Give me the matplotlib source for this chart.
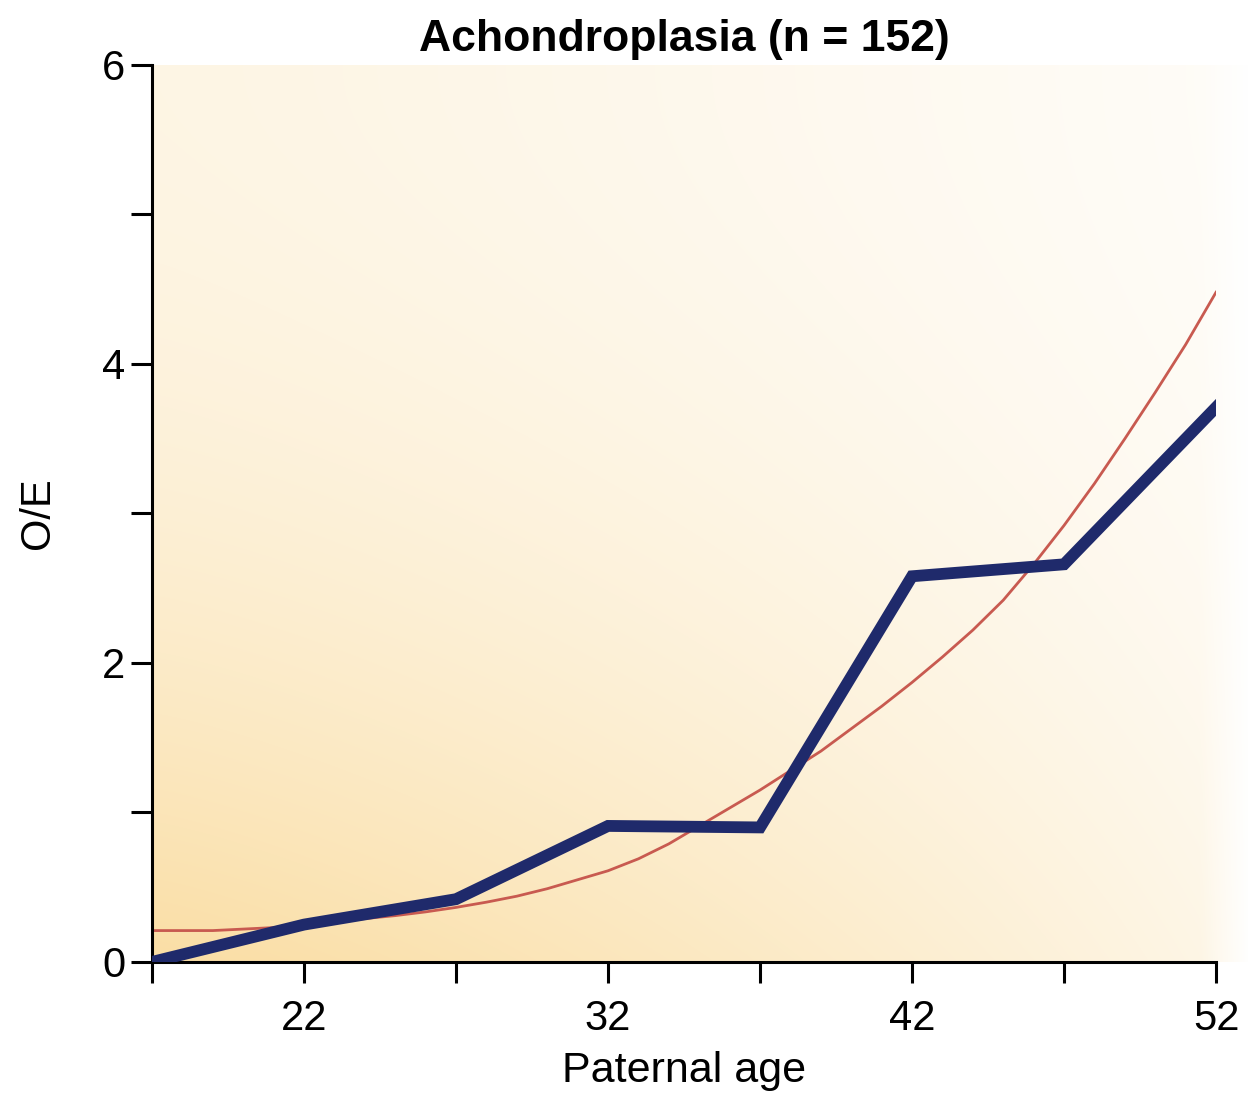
import numpy as np
import matplotlib.pyplot as plt

# Observed / expected ratio by paternal age
age = [17, 22, 27, 32, 37, 42, 44.5, 47, 52]
oe = [0.0, 0.25, 0.42, 0.91, 0.90, 2.58, 2.62, 2.66, 3.71]

# fitted curve
fit_age = list(range(17, 53))
fit_oe = [0.21, 0.21, 0.21, 0.22, 0.23, 0.25, 0.27, 0.29, 0.31, 0.335,
          0.365, 0.40, 0.44, 0.49, 0.55, 0.61, 0.69, 0.79, 0.91, 1.03,
          1.15, 1.28, 1.41, 1.56, 1.71, 1.87, 2.04, 2.22, 2.42, 2.66,
          2.92, 3.20, 3.50, 3.81, 4.13, 4.48]

xticks = [17, 22, 27, 32, 37, 42, 47, 52]
xlabels = ['', '22', '', '32', '', '42', '', '52']
yticks = [0, 1, 2, 3, 4, 5, 6]
ylabels = ['0', '', '2', '', '4', '', '6']

plt.rcParams['font.family'] = ['Liberation Sans', 'DejaVu Sans']

fig = plt.figure(figsize=(12.48, 11.13), dpi=100)
ax = fig.add_axes([0.1218, 0.1357, 0.8526, 0.8059])

# warm background: strongest at bottom-left, fading to white towards the right
u = np.linspace(0, 1, 300)[None, :]
v = np.linspace(1, 0, 200)[:, None]
w = (0.3 + 0.7 * (1 - v) ** 2) * (1 - 0.75 * u ** 1.2) * np.clip((1 - u) * 22, 0, 1)
warm = np.array([250, 222, 165]) / 255.0
bg = 1 - w[..., None] * (1 - warm)
ax.imshow(bg, extent=[17, 53.2, 0, 6], aspect='auto', interpolation='bilinear',
          zorder=0, clip_on=False)

ax.plot(fit_age, fit_oe, color='#c85a50', lw=2.0, zorder=2)
ax.plot(age, oe, color='#1f2a6b', lw=8.5, solid_joinstyle='miter', zorder=3)

ax.set_xlim(17, 52)
ax.set_ylim(0, 6)
ax.set_xticks(xticks)
ax.set_xticklabels(xlabels)
ax.set_yticks(yticks)
ax.set_yticklabels(ylabels)

for s in ['top', 'right']:
    ax.spines[s].set_visible(False)
for s in ['left', 'bottom']:
    ax.spines[s].set_linewidth(2.2)
ax.tick_params(direction='out', length=15, width=2.2, labelsize=30)
ax.tick_params(axis='x', pad=12)
ax.tick_params(axis='y', pad=4)

ax.set_xlabel('Paternal age', fontsize=31, labelpad=8)
ax.set_ylabel('O/E', fontsize=30, labelpad=32)
ax.set_title('Achondroplasia (n = 152)', fontsize=32, fontweight='bold', pad=10)

fig.savefig('out.png', dpi=100)
